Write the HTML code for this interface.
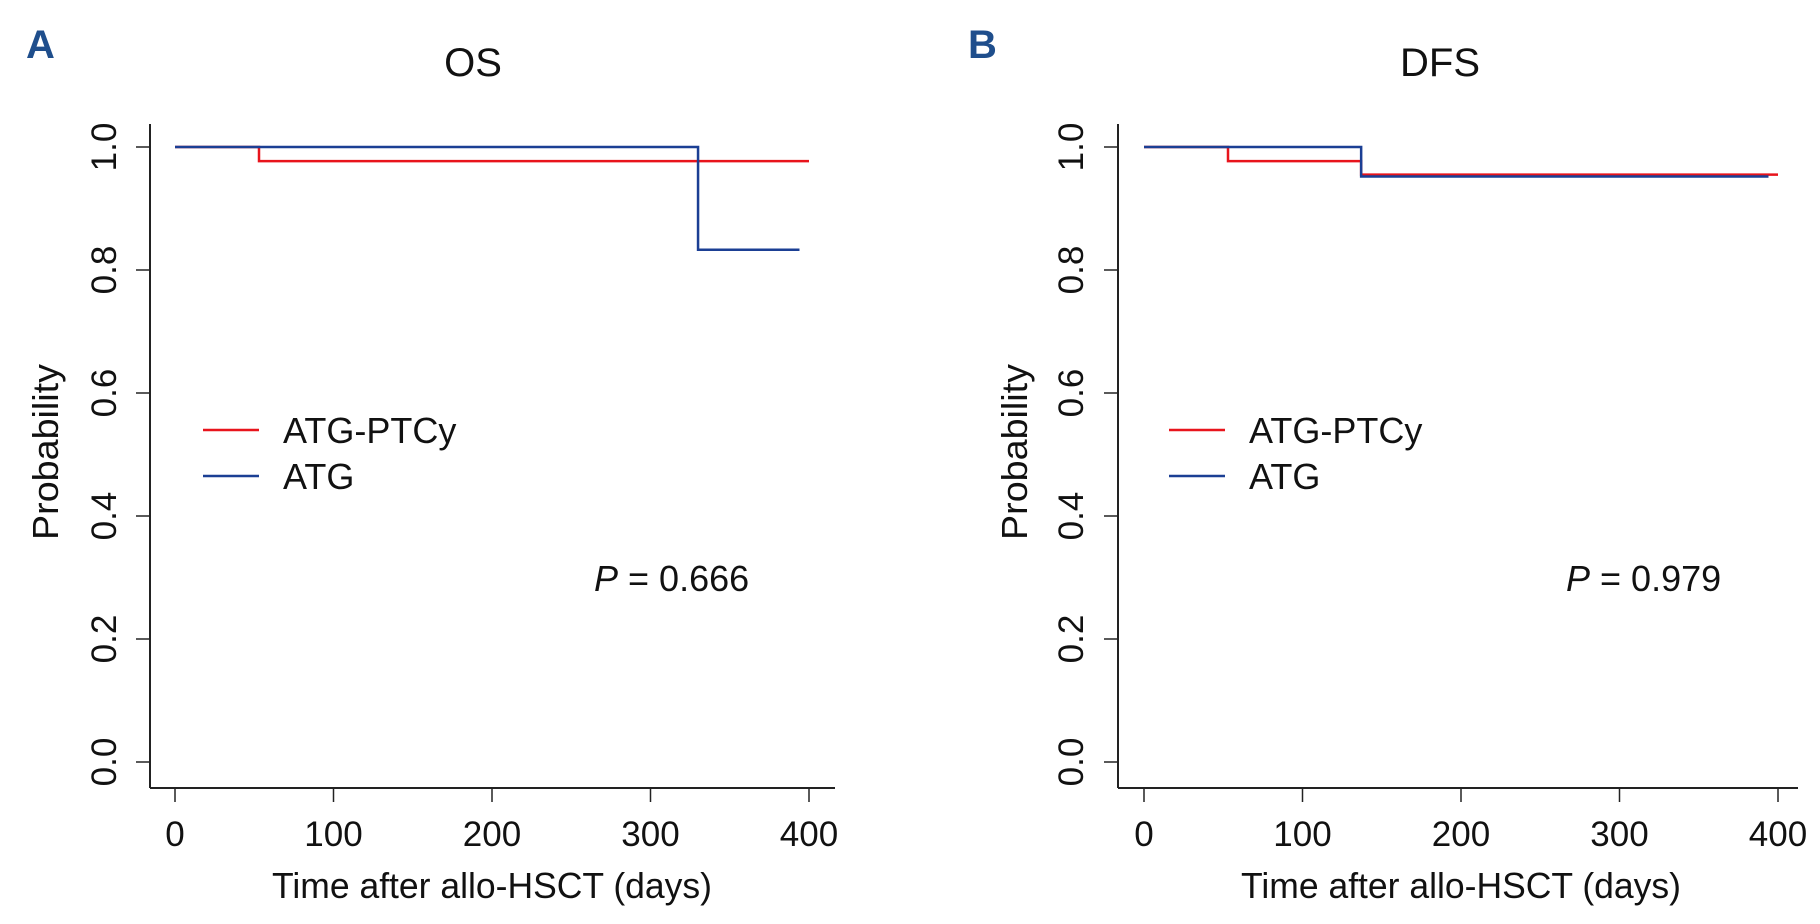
<!DOCTYPE html>
<html><head><meta charset="utf-8"><style>
html,body{margin:0;padding:0;background:#fff}
svg{display:block}
text{font-family:"Liberation Sans",sans-serif;fill:#111}
</style></head><body>
<svg id="chart" width="1820" height="924" viewBox="0 0 1820 924"></svg>
<script>
const xTicks=[0,100,200,300,400];
const yTicks=[0.0,0.2,0.4,0.6,0.8,1.0];
const yTickLabels=["0.0","0.2","0.4","0.6","0.8","1.0"];
const osRedTimes=[0,53,400];
const osRedSurv=[1,0.977,0.977];
const osBlueTimes=[0,330,394];
const osBlueSurv=[1,0.833,0.833];
const dfsRedTimes=[0,53,137,400];
const dfsRedSurv=[1,0.977,0.955,0.955];
const dfsBlueTimes=[0,137,394];
const dfsBlueSurv=[1,0.952,0.952];
const panelLetters=["A","B"];
const panelTitles=["OS","DFS"];
const pValues=["0.666","0.979"];
const seriesNames=["ATG-PTCy","ATG"];

const NS="http://www.w3.org/2000/svg";
const svg=document.getElementById('chart');
function mk(tag,attrs,parent){const e=document.createElementNS(NS,tag);for(const k in attrs)e.setAttribute(k,attrs[k]);(parent||svg).appendChild(e);return e;}

const panels=[
 {x0:175,x400:809,axL:150,axR:835,red:[osRedTimes,osRedSurv],blue:[osBlueTimes,osBlueSurv],legX:203,pX:594,titleX:473,letterX:26,ylabX:58,tickX:116},
 {x0:1144,x400:1778,axL:1118,axR:1798,red:[dfsRedTimes,dfsRedSurv],blue:[dfsBlueTimes,dfsBlueSurv],legX:1169,pX:1566,titleX:1440,letterX:968,ylabX:1027,tickX:1083}
];
const yTop=147,yBot=762,axisY=788;

panels.forEach((p,i)=>{
 const g=mk('g',{});
 
 
 const sx=t=>p.x0+(p.x400-p.x0)*t/400;
 const sy=v=>yBot-(yBot-yTop)*v;
 const letter=mk('text',{x:p.letterX,y:58,'font-size':40,'font-weight':'bold',style:'fill:#1f4e8c'},g);
 letter.textContent=panelLetters[i];
 
 
 const title=mk('text',{x:p.titleX,y:76,'font-size':40,'text-anchor':'middle'},g);
 title.textContent=panelTitles[i];
 
 
 const ya=mk('line',{x1:p.axL,y1:124,x2:p.axL,y2:axisY,stroke:'#222','stroke-width':2},g);
 
 
 const xa=mk('line',{x1:p.axL,y1:axisY,x2:p.axR,y2:axisY,stroke:'#222','stroke-width':2},g);
 
 
 xTicks.forEach(t=>{
  mk('line',{x1:sx(t),y1:axisY,x2:sx(t),y2:axisY+14,stroke:'#222','stroke-width':1.5},g);
  const tl=mk('text',{x:sx(t),y:846,'font-size':35,'text-anchor':'middle'},g);
  tl.textContent=t;
  
  
 });
 yTicks.forEach((v,k)=>{
  mk('line',{x1:p.axL-14,y1:sy(v),x2:p.axL,y2:sy(v),stroke:'#222','stroke-width':1.5},g);
  const tl=mk('text',{x:p.tickX,y:sy(v),'font-size':35,'text-anchor':'middle',transform:`rotate(-90 ${p.tickX} ${sy(v)})`},g);
  tl.textContent=yTickLabels[k];
  
  
 });
 const xt=mk('text',{x:(p.x0+p.x400)/2,y:898,'font-size':36,'text-anchor':'middle',textLength:440,lengthAdjust:'spacingAndGlyphs'},g);
 xt.textContent='Time after allo-HSCT (days)';
 
 
 const yt=mk('text',{x:p.ylabX,y:452,'font-size':36,'text-anchor':'middle',transform:`rotate(-90 ${p.ylabX} 452)`,textLength:176,lengthAdjust:'spacingAndGlyphs'},g);
 yt.textContent='Probability';
 
 
 function step(times,surv,color,name){
  let d=`M${sx(times[0])},${sy(surv[0])}`;
  for(let k=1;k<times.length;k++){d+=`H${sx(times[k])}V${sy(surv[k])}`;}
  const path=mk('path',{d:d,fill:'none',stroke:color,'stroke-width':2.5},g);
  
  
 }
 step(p.red[0],p.red[1],'#e8141c','atg-ptcy-curve');
 step(p.blue[0],p.blue[1],'#1b3f94','atg-curve');
 [['#e8141c',430],['#1b3f94',476]].forEach((c,k)=>{
  const lg=mk('g',{},g);
  
  
  mk('line',{x1:p.legX,y1:c[1],x2:p.legX+56,y2:c[1],stroke:c[0],'stroke-width':2.5},lg);
  const lt=mk('text',{x:p.legX+80,y:c[1]+13,'font-size':36},lg);
  lt.textContent=seriesNames[k];
 });
 const pt=mk('text',{x:p.pX,y:591,'font-size':36},g);
 pt.innerHTML='<tspan font-style="italic">P</tspan> = '+pValues[i];
 
 
});
</script>
</body></html>
